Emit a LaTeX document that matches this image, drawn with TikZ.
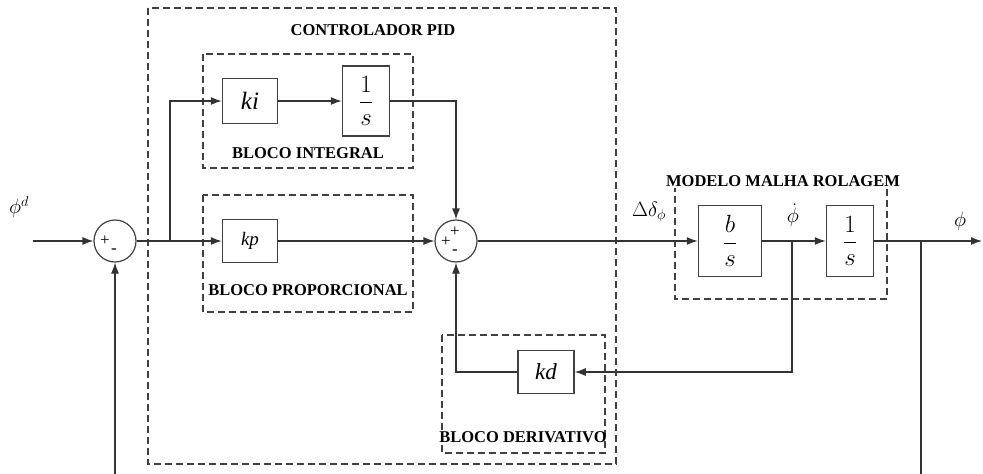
\documentclass[tikz,border=0pt]{standalone}
\usepackage{amsmath}
\usepackage{fontspec}
\setmainfont{Liberation Serif}
\usetikzlibrary{calc}
\usetikzlibrary{arrows.meta}

\tikzset{
  bloco/.style={draw=black!75, line width=1.5pt, fill=white, inner sep=0pt},
  somador/.style={draw=black!75, circle, line width=1.2pt, fill=white, minimum size=42pt, inner sep=0pt},
  grupo/.style={draw=black!75, line width=1.2pt, dash pattern=on 7pt off 4pt},
  rotulo/.style={font=\fontsize{16.5}{19}\selectfont\bfseries, inner sep=0pt},
  sinal/.style={font=\fontsize{17}{17}\selectfont, inner sep=0pt},
  variavel/.style={font=\fontsize{20}{22}\selectfont, inner sep=0pt},
  fio/.style={line width=1.2pt, draw=black!80},
}

\begin{document}
\begin{tikzpicture}[x=1pt, y=-1pt, >={Latex[length=11pt,width=8pt]}]
\useasboundingbox (0,0) rectangle (983,474);

% blocos tracejados
\draw[grupo] (148,8) rectangle (616,464);
\draw[grupo] (203,54) rectangle (413,168);
\draw[grupo] (203,195) rectangle (413,312);
\draw[grupo] (442,335) rectangle (605,453);
\draw[grupo] (675,185) rectangle (887,299);
\node[rotulo] (tpid) at (373,30) {CONTROLADOR PID};
\node[rotulo] (tint) at (308,153) {BLOCO INTEGRAL};
\node[rotulo] (tprop) at (308,290) {BLOCO PROPORCIONAL};
\node[rotulo] (tder) at (523,437) {BLOCO DERIVATIVO};
\node[rotulo, fill=white, inner sep=1pt] (tmod) at (783,181) {MODELO MALHA ROLAGEM};

% somadores
\node[somador] (s1) at (115,241) {};
\node[sinal] (s1a) at ($(s1)+(-10,0)$) {+};
\node[sinal] (s1b) at ($(s1)+(-1,10)$) {-};
\node[somador] (s2) at (456,241) {};
\node[sinal] (s2a) at ($(s2)+(-10,1)$) {+};
\node[sinal] (s2b) at ($(s2)+(-1,-9)$) {+};
\node[sinal] (s2c) at ($(s2)+(-1,11)$) {-};

% blocos
\node[bloco, minimum width=55pt, minimum height=45pt, font=\fontsize{25}{28}\selectfont] (ki) at (250,101) {\textit{ki}};
\node[bloco, minimum width=47pt, minimum height=70pt, font=\fontsize{23}{26}\selectfont] (inv1) at (366,101) {$\dfrac{1}{s}$};
\node[bloco, minimum width=55pt, minimum height=43pt, font=\fontsize{19}{22}\selectfont] (kp) at (250,241) {\textit{kp}};
\node[bloco, minimum width=56pt, minimum height=43pt, font=\fontsize{23}{26}\selectfont] (kd) at (546,372) {\textit{kd}};
\node[bloco, minimum width=63pt, minimum height=71pt, font=\fontsize{23}{26}\selectfont] (bs) at (730,241) {$\dfrac{b}{s}$};
\node[bloco, minimum width=47pt, minimum height=71pt, font=\fontsize{23}{26}\selectfont] (inv2) at (850,241) {$\dfrac{1}{s}$};

% sinais
\node[variavel] (phid) at (19,207) {$\phi^{d}$};
\node[variavel] (delta) at (649,212) {$\Delta\delta_{\phi}$};
\node[variavel] (phip) at (793,215) {$\dot{\phi}$};
\node[variavel] (phi) at (960,221) {$\phi$};

% ligacoes
\coordinate (in) at (33,241);
\coordinate (b1) at (170,241);
\coordinate (pd) at (792,241);
\coordinate (po) at (921,241);
\coordinate (out) at (982,241);
\coordinate (fb1) at (921,474);
\coordinate (fb2) at (115,474);
\draw[fio,->] (in) -- (s1);
\draw[fio] (s1) -- (b1);
\draw[fio,->] (b1) |- (ki);
\draw[fio,->] (b1) -- (kp);
\draw[fio,->] (ki) -- (inv1);
\draw[fio,->] (inv1) -| (s2);
\draw[fio,->] (kp) -- (s2);
\draw[fio,->] (s2) -- (bs);
\draw[fio,->] (bs) -- (inv2);
\draw[fio,->] (pd) |- (kd);
\draw[fio,->] (kd) -| (s2);
\draw[fio,->] (inv2) -- (out);
\draw[fio] (po) -- (fb1);
\draw[fio,->] (fb2) -- (s1);

\end{tikzpicture}
\end{document}
